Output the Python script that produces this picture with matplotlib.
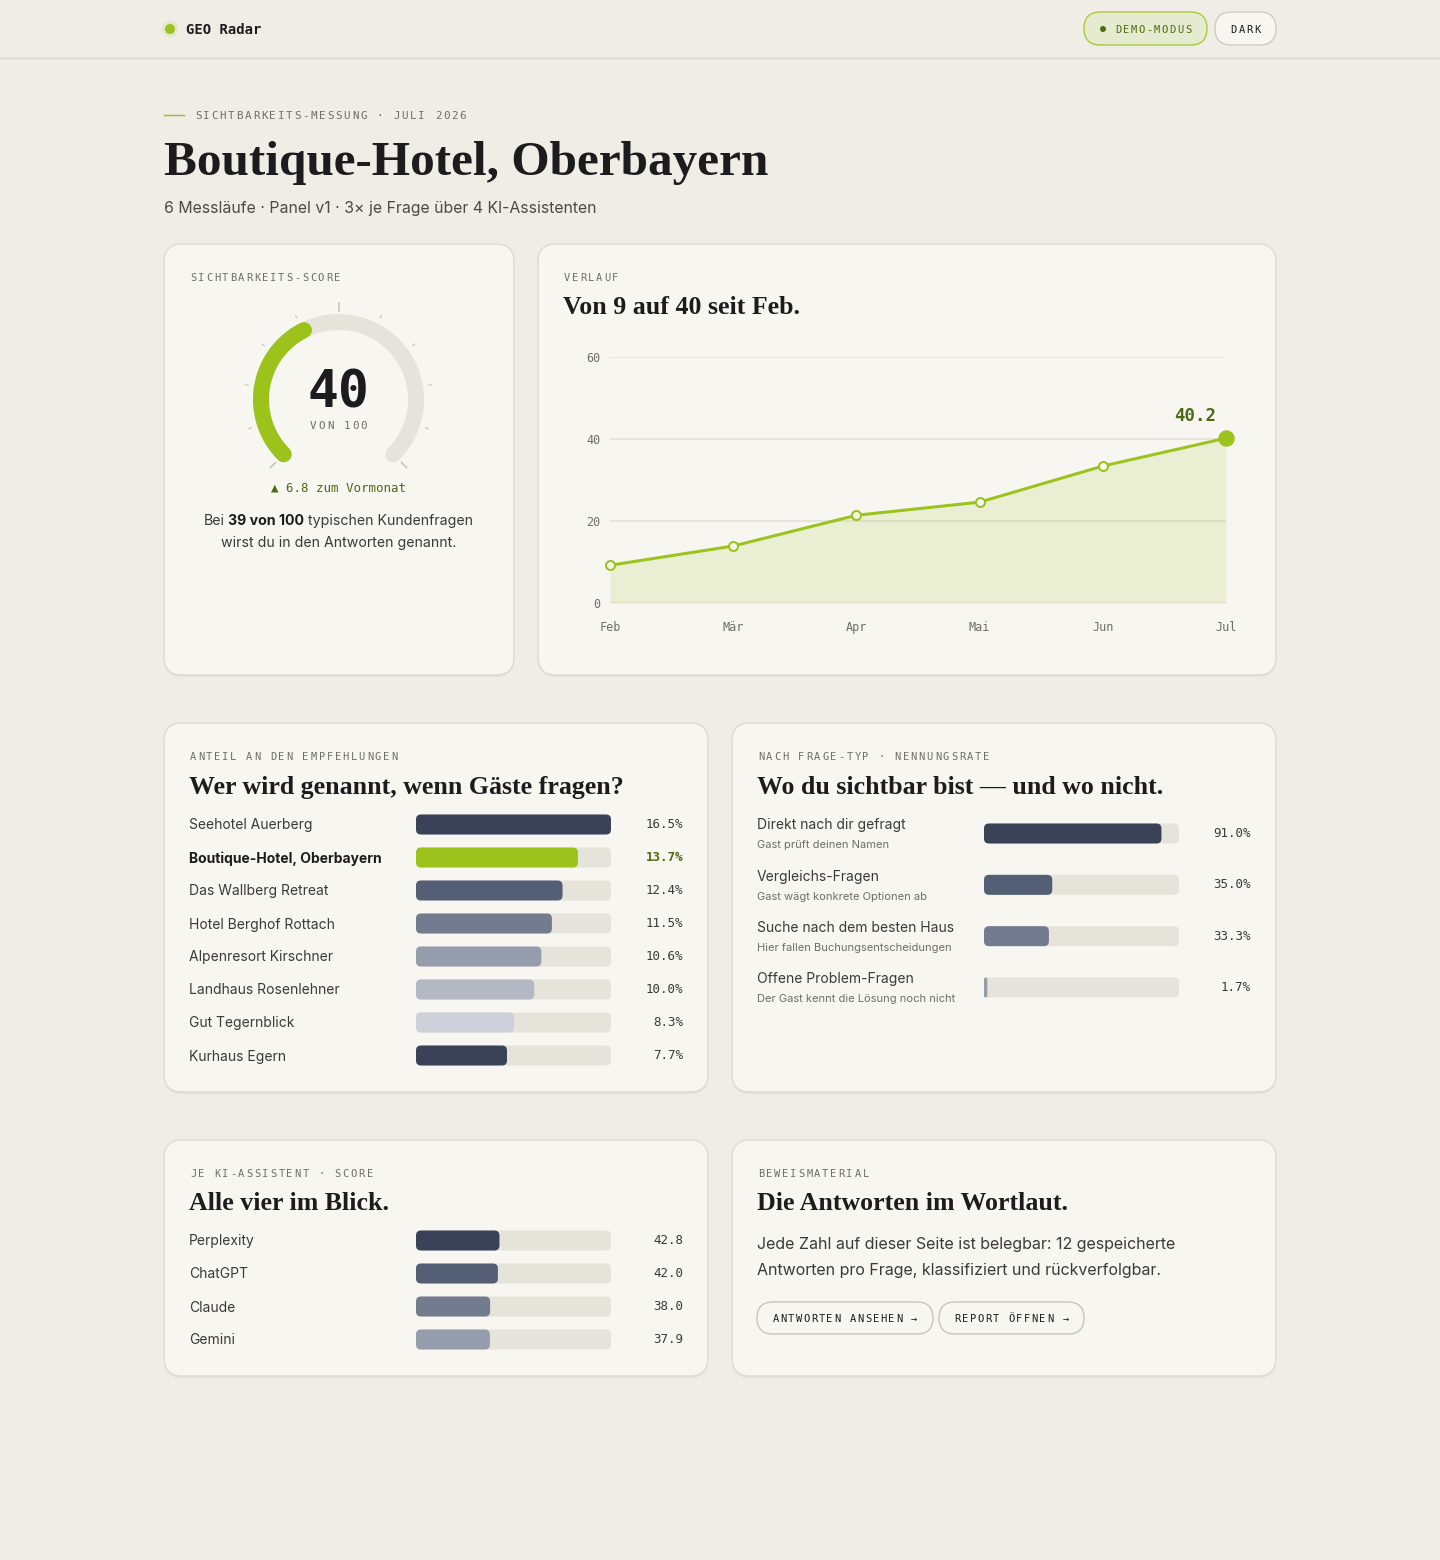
import numpy as np
import matplotlib
matplotlib.use("Agg")
import matplotlib.pyplot as plt
from matplotlib.patches import FancyBboxPatch, Circle

# ── Data ─────────────────────────────────────────────────────────────────────
SCORE = 40.2
SCORE_DELTA = 6.8
MONTHS = ["Feb", "Mär", "Apr", "Mai", "Jun", "Jul"]
TREND = [9.2, 13.9, 21.4, 24.6, 33.4, 40.2]

HOTELS = ["Seehotel Auerberg", "Boutique-Hotel, Oberbayern", "Das Wallberg Retreat",
          "Hotel Berghof Rottach", "Alpenresort Kirschner", "Landhaus Rosenlehner",
          "Gut Tegernblick", "Kurhaus Egern"]
HOTEL_SHARE = [16.5, 13.7, 12.4, 11.5, 10.6, 10.0, 8.3, 7.7]
OWN_HOTEL = "Boutique-Hotel, Oberbayern"

QTYPES = ["Direkt nach dir gefragt", "Vergleichs-Fragen",
          "Suche nach dem besten Haus", "Offene Problem-Fragen"]
QTYPE_NOTES = ["Gast prüft deinen Namen", "Gast wägt konkrete Optionen ab",
               "Hier fallen Buchungsentscheidungen", "Der Gast kennt die Lösung noch nicht"]
QTYPE_RATE = [91.0, 35.0, 33.3, 1.7]

ASSISTANTS = ["Perplexity", "ChatGPT", "Claude", "Gemini"]
ASSISTANT_SCORE = [42.8, 42.0, 38.0, 37.9]

# ── Style ────────────────────────────────────────────────────────────────────
W, H = 1440, 1560
PT = 72 / 100          # px -> pt at dpi 100
MONO = ["DejaVu Sans Mono", "DejaVu Sans"]
SANS = "Inter"
SERIF = "Liberation Serif"

BG = "#f0ede6"
CARD = "#f7f6f1"
BORDER = "#dedad0"
TRACK = "#e6e4da"
GREEN = "#9bc31c"
DKGREEN = "#4e6b12"
INK = "#1c1c1e"
TEXT = "#3a3a3a"
MUTED = "#6f6d66"
SLATE = ["#3a4257", "#545e74", "#737b8f", "#959cab", "#b3b8c3", "#cdd0d8"]

fig = plt.figure(figsize=(W / 100, H / 100), dpi=100, facecolor=BG)
bg = fig.add_axes([0, 0, 1, 1])
bg.set_xlim(0, W)
bg.set_ylim(H, 0)
bg.axis("off")


def px_axes(x0, y0, x1, y1, **kw):
    return fig.add_axes([x0 / W, 1 - y1 / H, (x1 - x0) / W, (y1 - y0) / H], **kw)


def pill(x0, y0, x1, y1, fc, ec):
    bg.add_patch(FancyBboxPatch((x0, y0), x1 - x0, y1 - y0,
                                boxstyle=f"round,pad=0,rounding_size={(y1 - y0) / 2}",
                                fc=fc, ec=ec, lw=1))


def card(x0, y0, x1, y1):
    bg.add_patch(FancyBboxPatch((x0, y0 + 2), x1 - x0, y1 - y0,
                                boxstyle="round,pad=0,rounding_size=18", fc="#e6e2d8", ec="none"))
    bg.add_patch(FancyBboxPatch((x0, y0), x1 - x0, y1 - y0,
                                boxstyle="round,pad=0,rounding_size=18", fc=CARD, ec=BORDER, lw=1))


def spaced(x, y, s, adv, size=8, color=MUTED, ha="left", weight="normal"):
    # monospace text with letter spacing
    if ha == "center":
        x -= len(s) * adv / 2
    for i, ch in enumerate(s):
        if ch != " ":
            bg.text(x + (i + 0.5) * adv, y, ch, ha="center", va="baseline", fontsize=size,
                    family=MONO, color=color, weight=weight)


def serif_title(x, y, s, size=18.6):
    bg.text(x, y, s, ha="left", va="baseline", fontsize=size, family=SERIF,
            weight="bold", color=INK)


def rich_line(cx, y, parts, size, color, gap=4):
    r = fig.canvas.get_renderer()
    texts = [bg.text(0, y, s, ha="left", va="center", fontsize=size, family=SANS,
                     weight=w, color=c or color) for s, w, c in parts]
    widths = [t.get_window_extent(r).width for t in texts]
    x = cx - (sum(widths) + gap * (len(widths) - 1)) / 2
    for t, wd in zip(texts, widths):
        t.set_x(x)
        x += wd + gap


def bar_panel(rows_y, x0, x1, values, vmax, colors, height=20, radius=5):
    step = rows_y[1] - rows_y[0]
    n = len(values)
    ax = px_axes(x0, rows_y[0] - step / 2, x1, rows_y[-1] + step / 2)
    ax.set_xlim(0, vmax)
    ax.set_ylim(n - 0.5, -0.5)
    ax.axis("off")
    ux = vmax / (x1 - x0)
    uy = 1 / step
    h = height * uy
    for i, (v, c) in enumerate(zip(values, colors)):
        for w, fc in ((vmax, TRACK), (v, c)):
            r = min(radius, w / ux / 2)
            ax.add_patch(FancyBboxPatch((0, i - h / 2), w, h,
                                        boxstyle=f"round,pad=0,rounding_size={r * ux}",
                                        mutation_aspect=uy / ux, fc=fc, ec="none"))
    return ax


# ── Header ───────────────────────────────────────────────────────────────────
bg.add_patch(Circle((170, 29), 8, fc="#e3e9c8", ec="none"))
bg.add_patch(Circle((170, 29), 5, fc=GREEN, ec="none"))
bg.text(186, 34, "GEO Radar", fontsize=10, family=MONO, weight="bold", color=INK, va="baseline")
bg.axhline(58, color="#d9d5cb", lw=1)

pill(1084, 12, 1207, 45, "#e6ebcf", "#a9c93f")
bg.add_patch(Circle((1103, 29), 3, fc=DKGREEN, ec="none"))
spaced(1114, 33, "DEMO-MODUS", 7.8, size=7.5, color=DKGREEN)
pill(1215, 12, 1276, 45, CARD, "#cfcbc0")
spaced(1245.5, 33, "DARK", 7.8, size=7.5, color=INK, ha="center")

# ── Intro ────────────────────────────────────────────────────────────────────
bg.plot([164, 184], [115, 115], color=GREEN, lw=1)
spaced(194, 119, "SICHTBARKEITS-MESSUNG · JULI 2026", 8.27, size=7.8)
bg.text(164, 175, "Boutique-Hotel, Oberbayern", fontsize=35.5, family=SERIF, weight="bold",
        color=INK, va="baseline")
bg.text(164, 208, "6 Messläufe · Panel v1 · 3× je Frage über 4 KI-Assistenten",
        fontsize=11.4, family=SANS, color="#4a4a48", va="center")

# ── Card 1: score gauge ──────────────────────────────────────────────────────
card(164, 244, 514, 675)
spaced(189, 281, "SICHTBARKEITS-SCORE", 8.0, size=7.5)

gx, gy, R = 338.5, 399.5, 100
gax = px_axes(gx - R, gy - R, gx + R, gy + R, projection="polar")
gax.set_theta_zero_location("N")
gax.set_theta_direction(-1)
gax.set_ylim(0, R)
gax.axis("off")


def ang(v):
    return np.deg2rad(-135 + 270 * v / 100)


t = np.linspace(ang(0), ang(100), 300)
gax.plot(t, np.full_like(t, 77.5), color=TRACK, lw=16 * PT, solid_capstyle="round")
t = np.linspace(ang(0), ang(SCORE), 300)
gax.plot(t, np.full_like(t, 77.5), color=GREEN, lw=16 * PT, solid_capstyle="round")
for v in range(0, 101, 10):
    major = v in (0, 50, 100)
    r0, r1 = (89, 96.5) if major else (91.5, 94.5)
    gax.plot([ang(v)] * 2, [r0, r1], color="#c4c1b6", lw=(1.5 if major else 1) * PT)

bg.text(gx, 408, f"{SCORE:.0f}", ha="center", va="baseline", fontsize=37, family=MONO,
        weight="bold", color=INK)
spaced(gx, 429, "VON 100", 8.4, size=7.8, ha="center")
bg.text(gx, 491, f"▲ {SCORE_DELTA} zum Vormonat", ha="center", va="baseline", fontsize=9,
        family=MONO, color=DKGREEN)
rich_line(gx, 521, [("Bei", "normal", None), ("39 von 100", "bold", INK),
                    ("typischen Kundenfragen", "normal", None)], 10.2, TEXT)
bg.text(gx, 543, "wirst du in den Antworten genannt.", ha="center", va="center",
        fontsize=10.2, family=SANS, color=TEXT)

# ── Card 2: trend line ───────────────────────────────────────────────────────
card(538, 244, 1276, 675)
spaced(563, 281, "VERLAUF", 8.0, size=7.5)
serif_title(563, 314, "Von 9 auf 40 seit Feb.")

ax = px_axes(610, 357, 1226, 603)
x = np.arange(len(MONTHS))
ax.set_facecolor("none")
ax.fill_between(x, TREND, color=GREEN, alpha=0.14, lw=0)
ax.plot(x, TREND, color=GREEN, lw=3 * PT, solid_capstyle="round", clip_on=False)
ax.plot(x[:-1], TREND[:-1], "o", ms=9 * PT, mfc=CARD, mec=GREEN, mew=2 * PT, clip_on=False)
ax.plot(x[-1], TREND[-1], "o", ms=15 * PT, color=GREEN, clip_on=False)
ax.annotate(f"{TREND[-1]:.1f}", (x[-1], TREND[-1]), xytext=(-10 * PT, 17 * PT),
            textcoords="offset points", ha="right", va="baseline", fontsize=12.5,
            family=MONO, weight="bold", color=DKGREEN)
ax.set_xlim(0, len(MONTHS) - 1)
ax.set_ylim(0, 60)
ax.set_yticks([0, 20, 40, 60])
ax.set_xticks(x, MONTHS)
ax.grid(axis="y", color="#e2dfd6", lw=1.5 * PT)
ax.set_axisbelow(True)
for s in ax.spines.values():
    s.set_visible(False)
ax.tick_params(length=0, labelsize=8.5, labelcolor=MUTED)
ax.tick_params(axis="y", pad=7)
ax.tick_params(axis="x", pad=13)
for lbl in ax.get_xticklabels() + ax.get_yticklabels():
    lbl.set_fontfamily(MONO)

# ── Card 3: share of recommendations ─────────────────────────────────────────
card(164, 723, 708, 1092)
spaced(189, 760, "ANTEIL AN DEN EMPFEHLUNGEN", 8.04, size=7.5)
serif_title(189, 794, "Wer wird genannt, wenn Gäste fragen?")
rows = [824.5 + 33 * i for i in range(len(HOTELS))]
colors = []
k = 0
for h in HOTELS:
    if h == OWN_HOTEL:
        colors.append(GREEN)
    else:
        colors.append(SLATE[k % len(SLATE)])
        k += 1
bar_panel(rows, 416, 611, HOTEL_SHARE, max(HOTEL_SHARE), colors)
for y, h, v in zip(rows, HOTELS, HOTEL_SHARE):
    own = h == OWN_HOTEL
    bg.text(189, y + 1, h, va="center", fontsize=10, family=SANS, color=INK if own else TEXT,
            weight="bold" if own else "normal")
    bg.text(683, y, f"{v:.1f}%", va="center", ha="right", fontsize=9, family=MONO,
            color=DKGREEN if own else TEXT, weight="bold" if own else "normal")

# ── Card 4: by question type ─────────────────────────────────────────────────
card(732, 723, 1276, 1092)
spaced(757, 760, "NACH FRAGE-TYP · NENNUNGSRATE", 8.04, size=7.5)
serif_title(757, 794, "Wo du sichtbar bist — und wo nicht.")
rows = [833.5 + 51.33 * i for i in range(len(QTYPES))]
bar_panel(rows, 984, 1179, QTYPE_RATE, 100, SLATE[:len(QTYPES)])
for y, q, note, v in zip(rows, QTYPES, QTYPE_NOTES, QTYPE_RATE):
    bg.text(757, y - 8, q, va="center", fontsize=10, family=SANS, color=TEXT)
    bg.text(757, y + 12, note, va="center", fontsize=8, family=SANS, color=MUTED)
    bg.text(1251, y, f"{v:.1f}%", va="center", ha="right", fontsize=9, family=MONO, color=TEXT)

# ── Card 5: per assistant ────────────────────────────────────────────────────
card(164, 1140, 708, 1376)
spaced(189, 1177, "JE KI-ASSISTENT · SCORE", 8.04, size=7.5)
serif_title(189, 1210, "Alle vier im Blick.")
rows = [1240.5 + 33 * i for i in range(len(ASSISTANTS))]
bar_panel(rows, 416, 611, ASSISTANT_SCORE, 100, SLATE[:len(ASSISTANTS)])
for y, a, v in zip(rows, ASSISTANTS, ASSISTANT_SCORE):
    bg.text(189, y + 1, a, va="center", fontsize=10, family=SANS, color=TEXT)
    bg.text(683, y, f"{v:.1f}", va="center", ha="right", fontsize=9, family=MONO, color=TEXT)

# ── Card 6: evidence ─────────────────────────────────────────────────────────
card(732, 1140, 1276, 1376)
spaced(757, 1177, "BEWEISMATERIAL", 8.04, size=7.5)
serif_title(757, 1210, "Die Antworten im Wortlaut.")
bg.text(757, 1244, "Jede Zahl auf dieser Seite ist belegbar: 12 gespeicherte", va="center",
        fontsize=11.5, family=SANS, color=TEXT)
bg.text(757, 1271, "Antworten pro Frage, klassifiziert und rückverfolgbar.", va="center",
        fontsize=11.5, family=SANS, color=TEXT)
pill(757, 1302, 933, 1334, CARD, "#c9c5b8")
spaced(845, 1322, "ANTWORTEN ANSEHEN →", 7.7, size=7.5, color=INK, ha="center")
pill(939, 1302, 1084, 1334, CARD, "#c9c5b8")
spaced(1011.5, 1322, "REPORT ÖFFNEN →", 7.7, size=7.5, color=INK, ha="center")

fig.savefig("out.png", dpi=100, facecolor=BG)
